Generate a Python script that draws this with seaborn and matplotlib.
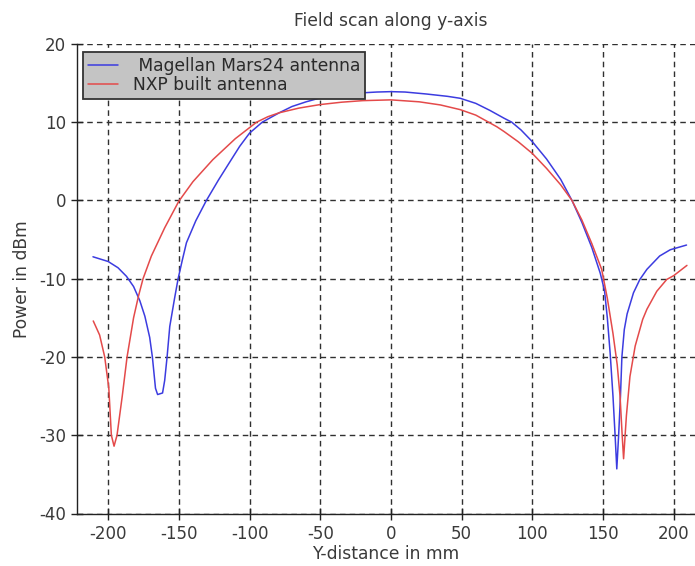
import numpy as np
import pandas as pd
import matplotlib
matplotlib.use("Agg")
import matplotlib.pyplot as plt
import seaborn as sns
from matplotlib.ticker import MultipleLocator

# ---------------- data ----------------
series_names = [" Magellan Mars24 antenna", "NXP built antenna"]

magellan_x = [-210.7, -200, -193, -187, -182, -177.6, -174, -170.6, -168.7, -166.5, -165, -161.5,
              -160, -158.3, -156.4, -153, -150.5, -147.5, -144.6, -138, -130.5, -122, -114, -107,
              -100, -91, -85, -79, -70, -60, -50, -40, -20, -10, 0, 10, 25, 40, 49, 60, 70, 80,
              85.4, 92, 100, 110, 120, 128, 135, 142, 148, 151, 153, 155, 157, 158.5, 159.7, 161,
              162.3, 163.3, 165, 167, 171.5, 176, 181, 190, 197.5, 209]
magellan_y = [-7.2, -7.8, -8.6, -9.7, -11.0, -12.8, -14.8, -17.5, -20.0, -24.0, -24.8, -24.6,
              -23.0, -20.0, -16.1, -12.5, -10.0, -7.6, -5.4, -2.6, 0.0, 2.6, 4.9, 6.9,
              8.6, 10.0, 10.6, 11.2, 12.0, 12.6, 13.1, 13.4, 13.75, 13.85, 13.9, 13.85, 13.6,
              13.3, 13.05, 12.4, 11.5, 10.5, 10.0, 9.0, 7.5, 5.3, 2.7, 0.0, -2.8, -6.0, -9.3,
              -11.5, -15.0, -19.5, -25.0, -30.0, -34.3, -30.0, -25.0, -20.0, -16.5, -14.5,
              -11.8, -10.1, -8.8, -7.1, -6.3, -5.7]

nxp_x = [-210.5, -206, -202.4, -199.5, -197.7, -195.8, -193.7, -190, -186.6, -182, -178.5,
         -175.3, -169.4, -160, -150, -140, -126, -110, -95, -87, -79, -65, -50, -35, -20, 0,
         20, 35, 49, 60, 68, 75, 80, 90, 100, 110, 120, 128, 135, 142, 149, 153, 157, 160,
         162, 163.5, 164.5, 166.5, 169, 172.7, 178, 181, 188, 195, 200, 209.3]
nxp_y = [-15.4, -17.2, -20.0, -24.0, -30.0, -31.4, -30.0, -25.0, -20.0, -15.0, -12.2,
         -10.0, -7.1, -3.5, -0.1, 2.4, 5.2, 7.9, 10.0, 10.7, 11.2, 11.8, 12.25, 12.55, 12.75,
         12.85, 12.6, 12.2, 11.6, 10.9, 10.1, 9.4, 8.8, 7.5, 6.0, 4.1, 2.0, 0.0, -2.5, -5.5,
         -8.8, -12.5, -17.0, -21.0, -25.0, -30.0, -33.0, -27.5, -22.5, -18.6, -15.2, -13.9,
         -11.6, -10.1, -9.6, -8.3]

x_ticks = [-200, -150, -100, -50, 0, 50, 100, 150, 200]
y_ticks = [-40, -30, -20, -10, 0, 10, 20]

title_text = "Field scan along y-axis"
x_label = "Y-distance in mm"
y_label = "Power in dBm"

line_colors = ["#3c3ce0", "#e44a4a"]

# ---------------- build frame ----------------
df = pd.concat([
    pd.DataFrame({"x": magellan_x, "y": magellan_y, "series": series_names[0]}),
    pd.DataFrame({"x": nxp_x, "y": nxp_y, "series": series_names[1]}),
], ignore_index=True)

sns.set_theme(style="white")
plt.rcParams["font.family"] = ["DejaVu Sans"]
plt.rcParams["axes.unicode_minus"] = False

W, H = 695, 566
fig = plt.figure(figsize=(W / 100, H / 100), dpi=100)
ax_left, ax_right, ax_top, ax_bottom = 77, 695, 43.9, 513.5
ax = fig.add_axes([ax_left / W, 1 - ax_bottom / H, (ax_right - ax_left) / W, (ax_bottom - ax_top) / H])

sns.lineplot(data=df, x="x", y="y", hue="series", hue_order=series_names,
             palette=line_colors, estimator=None, sort=False, linewidth=1.1, ax=ax, zorder=3)

ax.set_xlim(-222, 215)
ax.set_ylim(-40, 20)
ax.set_xticks(x_ticks)
ax.set_yticks(y_ticks)
ax.xaxis.set_minor_locator(MultipleLocator(25))
ax.yaxis.set_minor_locator(MultipleLocator(2.5))

text_col = "#3a3a3a"
ax.tick_params(axis="both", which="major", direction="inout", length=9, width=1.0,
               colors="#222222", labelcolor=text_col, labelsize=12, pad=3.5)
ax.tick_params(axis="both", which="minor", direction="out", length=3.5, width=1.0,
               colors="#222222")
ax.tick_params(axis="x", which="major", bottom=True)
ax.tick_params(axis="y", which="major", left=True)

for s in ["top", "right"]:
    ax.spines[s].set_visible(False)
for s in ["left", "bottom"]:
    ax.spines[s].set_color("#222222")
    ax.spines[s].set_linewidth(1.0)

ax.grid(True, which="major", color="#303030", linestyle=(0, (4, 3)), linewidth=1.0)
ax.set_axisbelow(True)

ax.set_xlabel(x_label, fontsize=12.3, color=text_col, labelpad=2)
ax.set_ylabel(y_label, fontsize=12.3, color=text_col, labelpad=6)
fig.text((390.5) / W, 1 - 21.5 / H, title_text, ha="center", va="center",
         fontsize=12.3, color=text_col)

handles, labels = ax.get_legend_handles_labels()
leg = ax.legend(handles, labels, loc="upper left",
                bbox_to_anchor=((83 - ax_left) / (ax_right - ax_left), 1 - (52 - ax_top) / (ax_bottom - ax_top)),
                borderaxespad=0, fontsize=12.3, frameon=True, fancybox=False,
                facecolor="#c4c4c4", edgecolor="#333333", framealpha=1,
                handlelength=1.75, handletextpad=0.85, labelspacing=0.05, borderpad=0.3)
leg.get_frame().set_linewidth(1.3)
for t in leg.get_texts():
    t.set_color("#2a2a2a")
leg.set_zorder(5)

fig.savefig("out.png", dpi=100)
